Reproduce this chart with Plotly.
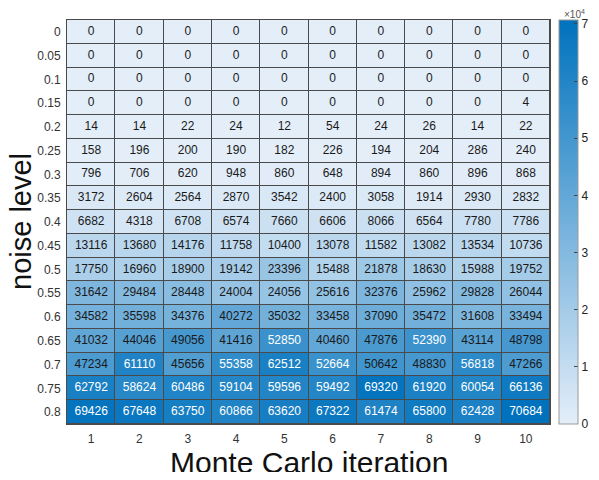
import plotly.graph_objects as go

noise_levels = ["0", "0.05", "0.1", "0.15", "0.2", "0.25", "0.3", "0.35", "0.4",
                "0.45", "0.5", "0.55", "0.6", "0.65", "0.7", "0.75", "0.8"]
iterations = [1, 2, 3, 4, 5, 6, 7, 8, 9, 10]

values = [
    [0, 0, 0, 0, 0, 0, 0, 0, 0, 0],
    [0, 0, 0, 0, 0, 0, 0, 0, 0, 0],
    [0, 0, 0, 0, 0, 0, 0, 0, 0, 0],
    [0, 0, 0, 0, 0, 0, 0, 0, 0, 4],
    [14, 14, 22, 24, 12, 54, 24, 26, 14, 22],
    [158, 196, 200, 190, 182, 226, 194, 204, 286, 240],
    [796, 706, 620, 948, 860, 648, 894, 860, 896, 868],
    [3172, 2604, 2564, 2870, 3542, 2400, 3058, 1914, 2930, 2832],
    [6682, 4318, 6708, 6574, 7660, 6606, 8066, 6564, 7780, 7786],
    [13116, 13680, 14176, 11758, 10400, 13078, 11582, 13082, 13534, 10736],
    [17750, 16960, 18900, 19142, 23396, 15488, 21878, 18630, 15988, 19752],
    [31642, 29484, 28448, 24004, 24056, 25616, 32376, 25962, 29828, 26044],
    [34582, 35598, 34376, 40272, 35032, 33458, 37090, 35472, 31608, 33494],
    [41032, 44046, 49056, 41416, 52850, 40460, 47876, 52390, 43114, 48798],
    [47234, 61110, 45656, 55358, 62512, 52664, 50642, 48830, 56818, 47266],
    [62792, 58624, 60486, 59104, 59596, 59492, 69320, 61920, 60054, 66136],
    [69426, 67648, 63750, 60866, 63620, 67322, 61474, 65800, 62428, 70684],
]

cb_ticks = [0, 1, 2, 3, 4, 5, 6, 7]

zmax = max(max(r) for r in values)
row_idx = list(range(len(noise_levels)))

fig = go.Figure()
fig.add_trace(go.Heatmap(
    z=values, x=iterations, y=row_idx,
    zmin=0, zmax=zmax,
    colorscale=[[0, "rgb(228,238,249)"], [1, "rgb(0,114,189)"]],
    xgap=1, ygap=1,
    hoverinfo="skip",
    colorbar=dict(
        thickness=19, thicknessmode="pixels",
        len=404, lenmode="pixels",
        x=1.0186, xanchor="left", xref="paper",
        y=0.5, yanchor="middle",
        xpad=0, ypad=0,
        outlinecolor="#9a9a9a", outlinewidth=1,
        tickvals=[t * 10000 for t in cb_ticks],
        ticktext=[str(t) for t in cb_ticks],
        ticks="inside", ticklen=4, tickcolor="#444",
        tickfont=dict(size=12, color="#222"),
    ),
))

xs, ys, txt, cols = [], [], [], []
for i, row in enumerate(values):
    for j, v in enumerate(row):
        xs.append(iterations[j])
        ys.append(row_idx[i])
        txt.append(str(v))
        cols.append("white" if v > 51500 else "#1a1a1a")

fig.add_trace(go.Scatter(
    x=xs, y=ys, text=txt, mode="text",
    textfont=dict(size=12, color=cols, family="Liberation Sans, Arial, sans-serif"),
    hoverinfo="skip", showlegend=False,
))

fig.add_annotation(
    text="×10<sup>4</sup>", xref="paper", yref="paper",
    x=1.025, y=1.0, xanchor="left", yanchor="bottom", yshift=-2,
    showarrow=False, font=dict(size=10, color="#555"),
)
fig.add_annotation(
    text="noise level", xref="paper", yref="paper",
    x=0, y=0.5, xanchor="center", yanchor="middle", xshift=-46,
    textangle=-90, showarrow=False, font=dict(size=29, color="#111"),
)
fig.add_annotation(
    text="Monte Carlo iteration", xref="paper", yref="paper",
    x=0.5, y=0, xanchor="center", yanchor="middle", yshift=-38,
    showarrow=False, font=dict(size=30, color="#111"),
)

fig.update_layout(
    width=583, height=464,
    margin=dict(l=59, r=41, t=12, b=48, autoexpand=False),
    paper_bgcolor="white",
    plot_bgcolor="#4a4a4a",
    font=dict(family="Liberation Sans, Arial, sans-serif", color="#222"),
    showlegend=False,
    xaxis=dict(
        tickmode="array", tickvals=iterations, ticktext=[str(v) for v in iterations],
        range=[0.5, 10.5], showgrid=False, zeroline=False, ticks="",
        tickfont=dict(size=12, color="#333"), ticklabelstandoff=4,
        showline=True, linecolor="#4a4a4a", mirror=True,
    ),
    yaxis=dict(
        tickmode="array", tickvals=row_idx, ticktext=noise_levels,
        range=[16.5, -0.5], showgrid=False, zeroline=False, ticks="",
        tickfont=dict(size=12, color="#333"), ticklabelstandoff=3,
        showline=True, linecolor="#4a4a4a", mirror=True,
    ),
)

fig.write_html("out.html")
